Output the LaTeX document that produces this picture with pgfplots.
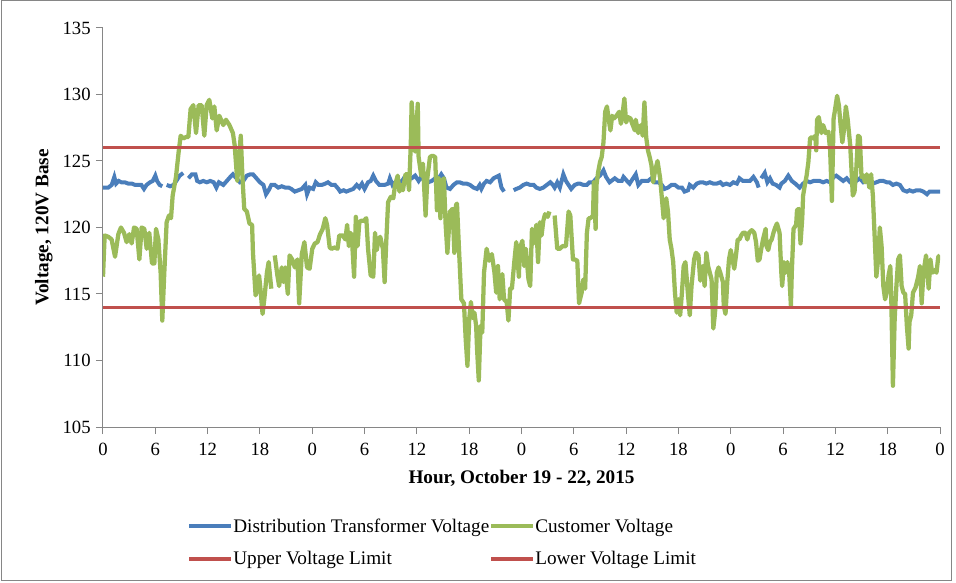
\documentclass[border=0pt]{standalone}
\usepackage{fontspec}
\setmainfont{Liberation Serif}
\usepackage{pgfplots}
\pgfplotsset{compat=1.18}
\definecolor{xlblue}{RGB}{74,126,187}
\definecolor{xlgreen}{RGB}{155,187,89}
\definecolor{xlred}{RGB}{192,80,77}
\definecolor{axgray}{RGB}{134,134,134}
\begin{document}
\begin{tikzpicture}
\path[use as bounding box] (0,0) rectangle (717pt,436.5pt);
\draw[axgray, line width=0.75pt] (0.75pt,1.5pt) rectangle (713.25pt,435.75pt);
\begin{axis}[
  at={(77.25pt,116.25pt)}, anchor=south west,
  scale only axis, width=627.75pt, height=299.25pt,
  xmin=0, xmax=96, ymin=105, ymax=135,
  xtick={0,6,...,96},
  xticklabels={0,6,12,18,0,6,12,18,0,6,12,18,0,6,12,18,0},
  ytick={105,110,...,135},
  axis x line=bottom, axis y line=left,
  axis line style={-, axgray, line width=0.75pt},
  tick align=outside, tick style={axgray, line width=0.75pt},
  major tick length=5.25pt,
  /pgf/number format/assume math mode=true,
  tick label style={font=\fontsize{14}{16}\selectfont},
  xticklabel style={yshift=-3pt},
  yticklabel style={xshift=-0.5pt},
  xlabel={Hour, October 19 - 22, 2015},
  ylabel={Voltage, 120V Base},
  label style={font=\fontsize{14.4}{16.5}\selectfont\bfseries},
  xlabel style={at={(axis description cs:0.5,-0.128)}, anchor=center},
  ylabel style={at={(axis description cs:-0.0706,0.5)}, anchor=center},
  unbounded coords=jump,
  legend columns=2,
  legend cell align=left,
  legend style={at={(axis description cs:0.1004,-0.2225)}, anchor=north west,
    draw=none, fill=none, inner sep=0pt, row sep=9pt,
    font=\fontsize{14.4}{16.5}\selectfont,
    nodes={inner xsep=0pt, inner ysep=2pt}},
  legend image code/.code={\draw[#1, line width=3pt] (0pt,0pt) -- (31.5pt,0pt);},
]
\addplot[xlblue, line width=3pt] coordinates {
(0,123.0) (0.6,123.0) (1.0,123.2) (1.3,123.8) (1.5,123.3) (1.8,123.5) (2.1,123.4) (2.5,123.4) (2.9,123.3) (3.3,123.3) (3.7,123.2) (4.1,123.2) (4.4,123.2) (4.7,122.9) (5.0,123.2) (5.4,123.4) (5.7,123.5) (6.0,123.9) (6.2,123.5) (6.5,123.2) (6.8,123.1)
(7.05,nan)
(7.3,123.2) (7.7,123.1) (8.1,123.2) (8.4,123.5) (8.8,123.9) (9.2,124.1)
(9.5,nan)
(9.8,123.7) (10.2,124.0) (10.6,124.0) (10.8,123.5) (11.1,123.4) (11.5,123.5) (11.9,123.4) (12.3,123.5) (12.7,123.4) (13.0,123.0) (13.3,123.4) (13.8,123.2) (14.2,123.5) (14.6,123.8) (14.9,124.0) (15.3,123.7) (15.7,123.4) (16.1,123.5) (16.5,123.9) (16.9,124.0) (17.2,124.0) (17.6,123.7) (18.0,123.4) (18.4,123.2) (18.7,122.5) (19.0,122.8) (19.3,123.2) (19.7,123.2) (20.1,123.0) (20.5,123.1) (20.9,123.0) (21.3,123.0) (21.6,122.9) (22.0,122.7) (22.4,122.8) (22.8,122.9) (23.2,123.2) (23.4,122.5) (23.7,123.0) (24.1,122.9) (24.4,123.4) (24.7,123.2) (25.1,123.2) (25.5,123.3) (25.8,123.4) (26.2,123.2) (26.6,123.2) (27.0,122.9) (27.2,122.7) (27.6,122.8) (27.9,122.7) (28.3,122.8) (28.7,122.9) (29.1,123.2) (29.4,123.0) (29.7,123.3) (30.0,122.9) (30.4,123.4) (30.7,123.5) (31.0,123.9) (31.3,123.5) (31.7,123.2) (32.0,123.2) (32.3,123.2) (32.7,123.3) (32.9,123.7) (33.2,123.2) (33.5,123.4) (33.9,123.4) (34.3,123.5) (34.6,123.8) (35.0,123.7) (35.4,123.7) (35.8,123.9) (36.2,123.5) (36.5,123.8) (36.9,123.5) (37.3,123.4) (37.7,123.5) (38.1,123.7) (38.5,123.7) (38.8,124.0) (39.1,123.7) (39.4,123.0) (39.8,122.9) (40.2,123.2) (40.6,123.4) (40.9,123.4) (41.3,123.3) (41.7,123.3) (42.1,123.2) (42.5,123.0) (42.9,122.9) (43.2,123.2) (43.4,122.9) (43.7,123.3) (44.0,123.5) (44.4,123.4) (44.8,123.7) (45.1,123.8) (45.4,123.9) (45.7,123.0) (46.0,122.7)
(46.5,nan)
(47.1,122.8) (47.4,122.9) (47.8,123.0) (48.2,123.2) (48.6,123.3) (49.0,123.2) (49.4,123.2) (49.7,123.0) (50.1,122.9) (50.5,123.0) (50.9,123.2) (51.3,123.4) (51.6,123.2) (51.8,123.0) (52.1,123.4) (52.4,123.0) (52.8,124.0) (53.1,123.5) (53.4,123.2) (53.7,122.9) (54.1,123.2) (54.5,123.3) (54.7,123.3) (55.1,123.2) (55.5,123.2) (55.8,123.4) (56.2,123.4) (56.6,123.7) (57.0,123.9) (57.4,124.3) (57.7,123.8) (58.1,123.4) (58.3,123.5) (58.7,123.7) (59.1,123.5) (59.5,123.5) (59.7,123.8) (60.1,123.5) (60.4,123.3) (60.8,123.7) (61.1,124.0) (61.4,123.2) (61.8,123.5) (62.2,123.5) (62.5,123.5) (62.9,123.7) (63.3,123.4) (63.7,123.4) (64.1,123.2) (64.4,122.9) (64.8,123.0) (65.2,123.2) (65.6,123.2) (66.0,123.0) (66.4,123.0) (66.7,122.7) (67.1,122.8) (67.3,123.2) (67.7,123.0) (68.1,123.3) (68.5,123.4) (68.8,123.4) (69.2,123.3) (69.6,123.4) (70.0,123.3) (70.4,123.3) (70.8,123.4) (71.1,123.2) (71.5,123.3) (71.9,123.2) (72.3,123.4) (72.7,123.3) (73.0,123.7) (73.4,123.5) (73.8,123.5) (74.2,123.5) (74.6,123.8) (75.0,123.4) (75.2,123.0)
(75.35,nan)
(75.5,123.7) (75.9,124.1) (76.2,123.4) (76.5,123.7) (76.8,123.3) (77.2,123.2) (77.6,123.0) (77.8,123.3) (78.2,123.5) (78.6,123.9) (79.0,123.5) (79.4,123.3) (79.9,123.0) (80.3,123.3) (80.7,123.5) (81.1,123.4) (81.5,123.5) (81.8,123.5) (82.2,123.5) (82.6,123.4) (83.0,123.5) (83.4,123.4) (83.8,123.8) (84.1,123.9) (84.5,123.7) (84.9,123.5) (85.3,123.7) (85.7,123.4) (86.0,123.4) (86.4,123.5) (86.8,123.7) (87.2,123.4) (87.6,123.5) (87.9,123.3) (88.3,123.3) (88.7,123.4) (89.1,123.5) (89.5,123.5) (89.9,123.4) (90.2,123.4) (90.6,123.2) (91.0,123.3) (91.4,123.2) (91.8,122.8) (92.2,122.7) (92.5,122.8) (92.9,122.7) (93.3,122.8) (93.7,122.8) (94.1,122.7) (94.5,122.5) (94.8,122.7) (95.2,122.7) (95.6,122.7) (96.0,122.7)
};
\addlegendentry{Distribution Transformer Voltage}
\addplot[xlgreen, line width=3.2pt, line join=round] coordinates {
(0,116.3) (0.19,119.4) (0.61,119.3) (0.99,119.1) (1.38,117.8) (1.76,119.5) (2.06,120.0) (2.41,119.6) (2.71,118.9) (3.02,119.5) (3.29,118.8) (3.56,120.0) (3.86,119.9) (4.17,117.6) (4.43,120.0) (4.74,119.9) (5.01,118.4) (5.31,119.6) (5.62,117.3) (5.89,117.3) (6.08,119.9) (6.35,119.1) (6.61,116.6) (6.80,113.0) (7.03,116.6) (7.30,120.4) (7.57,120.9) (7.80,120.7) (7.99,122.4) (8.37,123.8) (8.68,125.7) (8.91,126.9) (9.21,126.7) (9.52,126.8) (9.79,126.8) (10.05,128.9) (10.36,129.2) (10.67,127.1) (10.97,129.2) (11.31,129.2) (11.62,126.9) (11.89,129.2) (12.19,129.6) (12.54,128.2) (12.77,129.1) (13.04,127.3) (13.34,128.4) (13.8,127.7) (14.1,128.1) (14.5,127.7) (14.9,127.1) (15.1,126.2) (15.4,123.5) (15.8,126.9) (16.0,123.7) (16.2,121.4) (16.5,121.2) (16.8,120.3) (17.1,120.2) (17.2,118.1) (17.5,114.9) (17.7,115.3) (17.9,116.4) (18.1,115.1) (18.3,113.5) (18.5,114.6) (18.8,116.6) (19.0,117.4) (19.3,115.4)
(19.5,nan)
(19.7,117.9) (20.0,116.4) (20.2,115.6) (20.5,117.0) (20.7,115.9) (20.9,117.0) (21.2,115.0) (21.4,117.9) (21.7,117.6) (22.0,117.0) (22.3,117.6) (22.5,114.3) (22.8,118.0) (23.1,118.9) (23.4,117.0) (23.7,116.9) (24.0,118.4) (24.3,118.8) (24.6,118.9) (24.9,119.5) (25.2,119.9) (25.5,120.7) (25.7,120.2) (26.0,118.5) (26.2,118.4) (26.6,118.5) (26.9,118.4) (27.1,119.4) (27.5,119.4) (27.8,119.1) (28.0,120.2) (28.2,118.6) (28.4,119.6) (28.6,118.6) (28.8,116.3) (29.0,120.8) (29.2,118.6) (29.4,120.4) (29.6,120.5) (29.9,120.5) (30.2,120.7) (30.4,118.4) (30.7,116.4) (31.0,116.3) (31.2,119.6) (31.4,118.3) (31.6,119.1) (31.8,119.3) (32.1,118.4) (32.3,115.9) (32.5,119.1) (32.7,121.9) (33.0,122.3) (33.3,122.2) (33.5,123.2) (33.8,123.9) (34.0,122.7) (34.2,123.2) (34.4,122.8) (34.7,124.0) (34.9,124.0) (35.1,122.8) (35.3,126.2) (35.4,129.4) (35.6,127.4) (35.8,125.7) (36.1,129.3) (36.2,125.3) (36.5,123.9) (36.7,124.8) (37.0,120.9) (37.2,123.7) (37.5,125.3) (37.8,125.4) (38.1,125.3) (38.3,121.3) (38.5,123.7) (38.7,120.7) (38.9,123.5) (39.1,123.7) (39.3,120.2) (39.5,118.1) (39.8,121.2) (40.1,121.4) (40.3,118.1) (40.5,121.7) (40.6,121.8) (40.85,118.1) (41.1,114.6) (41.4,114.3) (41.6,111.6) (41.8,109.6) (42.0,113.1) (42.2,114.4) (42.4,113.2) (42.6,113.6) (42.8,112.6) (42.9,110.9) (43.1,108.5) (43.3,112.6) (43.5,112.1) (43.7,116.6) (44.0,118.4) (44.3,117.5) (44.6,118.0) (44.9,116.6) (45.1,115.1) (45.3,117.1) (45.5,114.6) (45.8,116.5) (46.0,114.6) (46.3,114.4) (46.5,113.0) (46.7,115.4) (46.9,115.4) (47.2,117.6) (47.4,118.9) (47.7,116.3) (47.8,118.4) (48.1,119.0) (48.3,117.1) (48.5,118.4) (48.8,116.1) (49.0,115.6) (49.2,119.9) (49.4,118.8) (49.7,120.2) (49.9,117.4) (50.1,120.4) (50.3,119.4) (50.5,120.5) (50.7,121.0) (51.0,120.8) (51.2,121.2)
(51.5,nan)
(51.8,120.9) (52.1,118.4) (52.4,118.4) (52.7,118.6) (53.1,118.6) (53.4,121.2) (53.6,120.9) (53.9,117.6) (54.1,117.6) (54.4,117.5) (54.6,114.3) (54.9,115.1) (55.1,116.1) (55.3,115.4) (55.5,119.6) (55.7,120.7) (55.9,120.7) (56.2,120.9) (56.3,123.4) (56.5,119.9) (56.6,123.2) (56.8,124.2) (57.0,124.9) (57.2,125.3) (57.4,126.4) (57.6,128.7) (57.8,129.1) (58.1,127.7) (58.2,127.3) (58.4,128.4) (58.6,128.2) (58.9,128.4) (59.2,128.7) (59.4,127.8) (59.6,128.6) (59.8,129.7) (60.0,127.9) (60.2,128.3) (60.5,128.2) (60.7,127.8) (61.0,127.3) (61.1,128.1) (61.4,127.1) (61.7,127.7) (61.9,126.9) (62.1,129.4) (62.3,126.8) (62.5,125.8) (62.7,125.3) (62.9,124.7) (63.1,123.4) (63.3,124.2) (63.6,125.0) (63.9,123.7) (64.1,122.2) (64.3,120.7) (64.4,121.2) (64.6,122.2) (64.8,121.2) (65.0,119.1) (65.2,118.4) (65.4,117.4) (65.6,115.1) (65.8,113.6) (66.0,114.6) (66.2,113.4) (66.4,115.1) (66.6,117.1) (66.8,117.4) (66.9,116.6) (67.1,114.9) (67.3,113.4) (67.5,115.6) (67.8,117.6) (68.0,118.1) (68.3,117.9) (68.5,116.0) (68.8,117.1) (69.0,115.6) (69.2,118.1) (69.4,117.1) (69.6,116.6) (69.8,116.1) (70.0,112.4) (70.2,113.6) (70.4,116.6) (70.6,117.0) (70.8,116.6) (71.1,115.9) (71.2,114.1) (71.4,113.5) (71.6,115.9) (71.8,117.6) (72.0,118.3) (72.2,117.6) (72.4,116.9) (72.6,117.9) (72.8,119.1) (73.0,119.1) (73.2,119.4) (73.4,119.6) (73.7,119.6) (73.9,119.1) (74.1,119.6) (74.4,119.8) (74.7,119.6) (74.9,118.9) (75.1,117.5) (75.3,117.6) (75.5,118.4) (75.7,119.1) (76.0,119.9) (76.1,118.6) (76.3,118.3) (76.5,118.9) (76.7,119.1) (76.9,119.6) (77.1,120.0) (77.3,120.3) (77.6,119.6) (77.8,116.6) (77.9,115.6) (78.1,117.4) (78.3,116.6) (78.5,117.4) (78.7,116.6) (78.9,114.1) (79.0,116.6) (79.2,119.9) (79.5,120.2) (79.6,121.3) (79.8,121.4) (80.0,118.8) (80.2,120.7) (80.3,122.4) (80.5,123.2) (80.7,123.9) (80.9,124.9) (81.1,126.7) (81.3,126.8) (81.5,126.7) (81.7,126.9) (81.8,125.8) (81.9,128.1) (82.1,128.3) (82.4,127.1) (82.6,127.7) (82.9,127.1) (83.2,127.2) (83.4,125.8) (83.6,122.0) (83.8,128.2) (83.9,128.6) (84.2,129.9) (84.4,129.2) (84.6,127.7) (84.8,126.4) (85.0,127.4) (85.2,129.1) (85.4,128.2) (85.7,126.2) (85.9,123.7) (86.0,122.4) (86.2,122.7) (86.4,124.4) (86.6,126.9) (86.8,126.8) (87.0,123.8) (87.2,123.9) (87.4,123.4) (87.6,124.0) (87.8,123.4) (87.9,123.0) (88.1,124.0) (88.3,122.4) (88.5,119.4) (88.7,116.3) (88.9,117.6) (89.1,120.0) (89.3,118.6) (89.5,115.6) (89.7,114.6) (89.9,115.1) (90.1,116.4) (90.3,117.1) (90.4,115.1) (90.6,108.1) (90.8,113.1) (91.0,115.6) (91.2,117.6) (91.4,117.9) (91.6,115.6) (91.8,115.1) (92.0,115.0) (92.2,112.6) (92.4,110.9) (92.5,112.9) (92.7,113.4) (92.9,115.1) (93.2,115.5) (93.5,116.3) (93.7,117.1) (93.9,114.3) (94.1,116.6) (94.4,117.9) (94.5,117.1) (94.7,115.4) (94.9,117.6) (95.1,116.6) (95.4,116.8) (95.6,116.6) (95.8,117.8) (96.0,117.9)
};
\addlegendentry{Customer Voltage}
\addplot[xlred, line width=2.6pt] coordinates {(0,126) (96,126)};
\addlegendentry{Upper Voltage Limit}
\addplot[xlred, line width=2.6pt] coordinates {(0,114) (96,114)};
\addlegendentry{Lower Voltage Limit}
\end{axis}
\end{tikzpicture}
\end{document}
